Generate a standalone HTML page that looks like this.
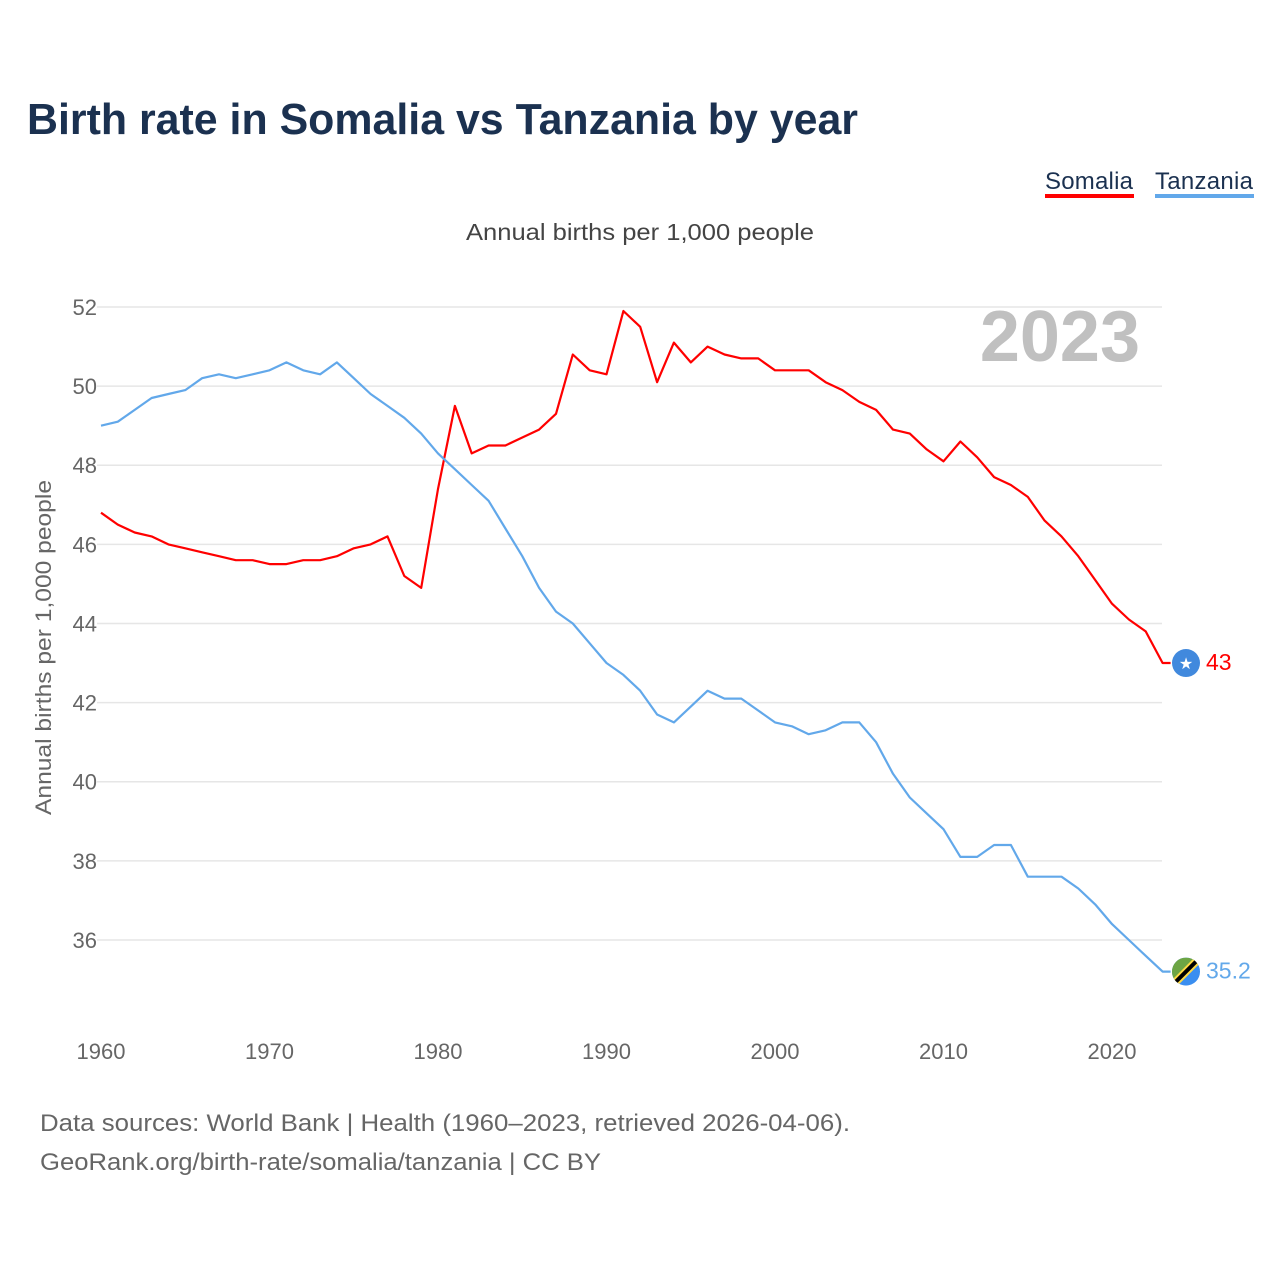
<!DOCTYPE html>
<html><head><meta charset="utf-8"><style>
body{margin:0;background:#fff;font-family:"Liberation Sans",sans-serif;}
svg text{font-family:"Liberation Sans",sans-serif;}
</style></head><body>
<svg id="chart" width="1280" height="1280" xmlns="http://www.w3.org/2000/svg">
<text x="27" y="134" font-size="44" font-weight="bold" fill="#1b3150" textLength="831" lengthAdjust="spacingAndGlyphs">Birth rate in Somalia vs Tanzania by year</text>
<g>
<text x="1045" y="189" font-size="24" fill="#1b3150" textLength="88">Somalia</text>
<rect x="1045" y="194" width="89" height="4" fill="#ff0000"/>
<text x="1155" y="189" font-size="24" fill="#1b3150" textLength="98">Tanzania</text>
<rect x="1155" y="194" width="99" height="4" fill="#62a8ea"/>
</g>
<text x="466" y="240" font-size="23" fill="#444" textLength="348" lengthAdjust="spacingAndGlyphs">Annual births per 1,000 people</text>
<text x="1140" y="361" font-size="72" font-weight="bold" fill="#c0c0c0" text-anchor="end">2023</text>
<text transform="translate(51,815) rotate(-90)" font-size="22" fill="#666" textLength="335" lengthAdjust="spacingAndGlyphs">Annual births per 1,000 people</text>
<g id="grid"></g><g id="xt"></g><g id="lines"></g>
<text x="40" y="1131" font-size="24" fill="#666" textLength="810" lengthAdjust="spacingAndGlyphs">Data sources: World Bank | Health (1960–2023, retrieved 2026-04-06).</text>
<text x="40" y="1170" font-size="24" fill="#666" textLength="561" lengthAdjust="spacingAndGlyphs">GeoRank.org/birth-rate/somalia/tanzania | CC BY</text>
</svg>
<script>
const years = Array.from({length:64},(_,i)=>1960+i);
const somalia = [46.8,46.5,46.3,46.2,46.0,45.9,45.8,45.7,45.6,45.6,45.5,45.5,45.6,45.6,45.7,45.9,46.0,46.2,45.2,44.9,47.4,49.5,48.3,48.5,48.5,48.7,48.9,49.3,50.8,50.4,50.3,51.9,51.5,50.1,51.1,50.6,51.0,50.8,50.7,50.7,50.4,50.4,50.4,50.1,49.9,49.6,49.4,48.9,48.8,48.4,48.1,48.6,48.2,47.7,47.5,47.2,46.6,46.2,45.7,45.1,44.5,44.1,43.8,43.0];
const tanzania = [49.0,49.1,49.4,49.7,49.8,49.9,50.2,50.3,50.2,50.3,50.4,50.6,50.4,50.3,50.6,50.2,49.8,49.5,49.2,48.8,48.3,47.9,47.5,47.1,46.4,45.7,44.9,44.3,44.0,43.5,43.0,42.7,42.3,41.7,41.5,41.9,42.3,42.1,42.1,41.8,41.5,41.4,41.2,41.3,41.5,41.5,41.0,40.2,39.6,39.2,38.8,38.1,38.1,38.4,38.4,37.6,37.6,37.6,37.3,36.9,36.4,36.0,35.6,35.2];
const yTicks = [36,38,40,42,44,46,48,50,52];
const xTicks = [1960,1970,1980,1990,2000,2010,2020];
const NS='http://www.w3.org/2000/svg';
const X = y => 101 + (y-1960)*16.85;
const Y = v => 307 + (52-v)*39.56;
function mk(tag,attrs,parent,txt){const e=document.createElementNS(NS,tag);for(const k in attrs)e.setAttribute(k,attrs[k]);if(txt!==undefined)e.textContent=txt;parent.appendChild(e);return e;}
const grid=document.getElementById('grid');
yTicks.forEach(t=>{
  const l=mk('line',{x1:97,x2:1162,y1:Y(t),y2:Y(t),stroke:'#e6e6e6','stroke-width':1.5},grid);
  
  
  const tx=mk('text',{x:97,y:Y(t)+8,'font-size':22,fill:'#666','text-anchor':'end'},grid,t);
  
  
});
const xt=document.getElementById('xt');
xTicks.forEach(t=>{
  const tx=mk('text',{x:X(t),y:1059,'font-size':22,fill:'#666','text-anchor':'middle'},xt,t);
  
  
});
const lines=document.getElementById('lines');
function series(vals,color,name){
  const pts=vals.map((v,i)=>X(years[i]).toFixed(1)+','+Y(v).toFixed(1));
  const last=vals[vals.length-1];
  pts.push((X(years[years.length-1])+8).toFixed(1)+','+Y(last).toFixed(1));
  const p=mk('polyline',{points:pts.join(' '),fill:'none',stroke:color,'stroke-width':2.2,'stroke-linejoin':'round'},lines);
  
  
  const lab=mk('text',{x:1206,y:Y(last)+7,'font-size':23,fill:color},lines,last);
  
  
  return Y(last);
}
const ys=series(somalia,'#ff0000','somalia');
const yt=series(tanzania,'#62a8ea','tanzania');
const f1=mk('circle',{cx:1186,cy:ys,r:14,fill:'#4189dd'},lines);


const st=mk('text',{x:1186,y:ys+6,'font-size':16,fill:'#fff','text-anchor':'middle'},lines,'★');


const g=mk('g',{},lines);


mk('clipPath',{id:'tzc'},g).appendChild(document.createElementNS(NS,'circle'));
const cc=g.querySelector('clipPath circle');cc.setAttribute('cx',1186);cc.setAttribute('cy',yt);cc.setAttribute('r',14);
const gg=mk('g',{'clip-path':'url(#tzc)'},g);
mk('rect',{x:1172,y:yt-14,width:28,height:28,fill:'#3a8ef0'},gg);
mk('polygon',{points:`1172,${yt-14} 1200,${yt-14} 1172,${yt+14}`,fill:'#6da544'},gg);
mk('line',{x1:1200,y1:yt-14,x2:1172,y2:yt+14,stroke:'#ffda44','stroke-width':8},gg);
mk('line',{x1:1200,y1:yt-14,x2:1172,y2:yt+14,stroke:'#000','stroke-width':4},gg);
</script>
</body></html>
